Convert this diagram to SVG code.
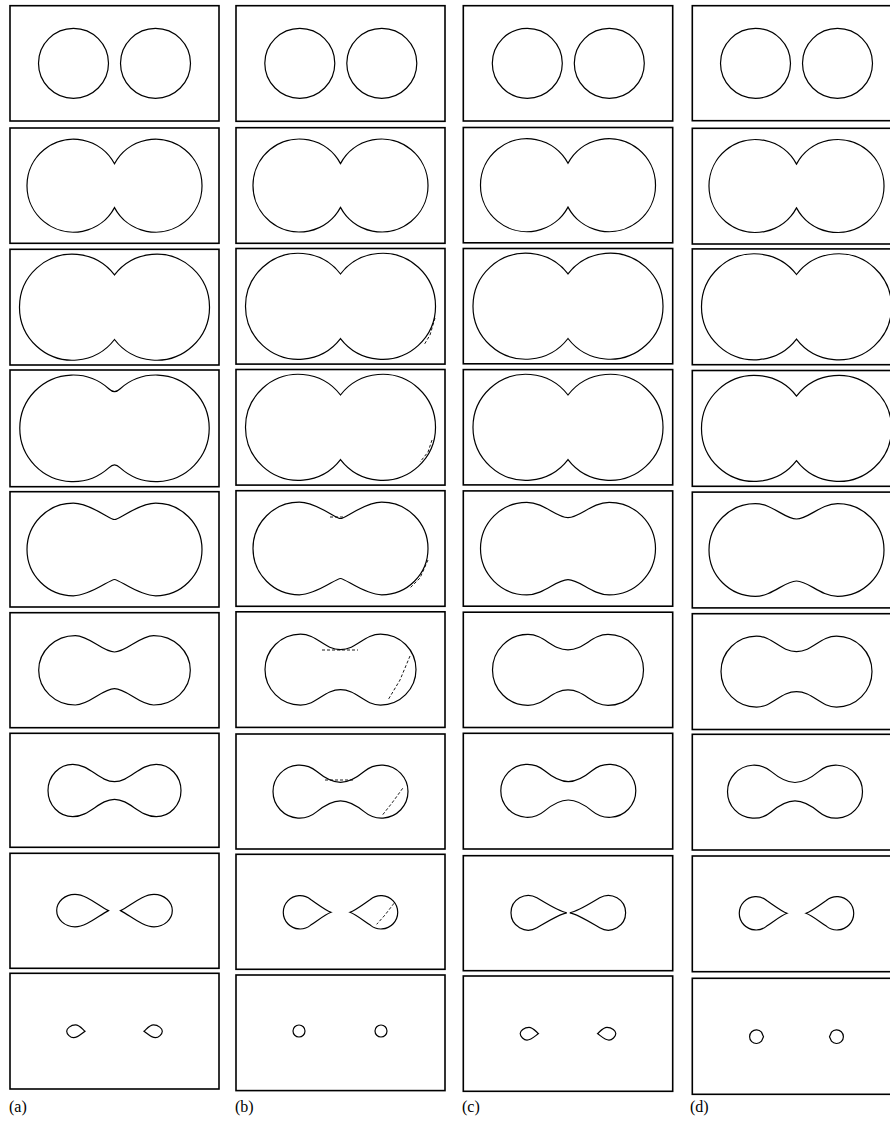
<svg xmlns="http://www.w3.org/2000/svg" xmlns:xlink="http://www.w3.org/1999/xlink" width="890" height="1126" viewBox="0 0 890 1126">
<style>
.panel{fill:#fff;stroke:#000;stroke-width:1.6}
.c{fill:none;stroke:#000;stroke-width:1.2}
.art{fill:none;stroke:#000;stroke-width:0.9;stroke-dasharray:3 2}
.lbl{font-family:"Liberation Serif","Times New Roman",serif;font-size:16px;fill:#000}
</style>
<defs>
<g id="s1" class="c"><circle cx="-41" cy="0" r="35"/><circle cx="41" cy="0" r="35"/></g>
<path id="s2" class="c" d="M0,-21.9 A46.5,46.5 0 1 0 0,21.9 A46.5,46.5 0 1 0 0,-21.9 Z"/>
<path id="s3" class="c" d="M0,-32.3 A53,53 0 1 0 0,32.3 A53,53 0 1 0 0,-32.3 Z"/>
<path id="s4" class="c" d="M-5.74,-39.6 C-1.3,-35.6 1.3,-35.6 5.74,-39.6 A53.3,53.3 0 1 1 5.74,39.6 C1.3,35.6 -1.3,35.6 -5.74,39.6 A53.3,53.3 0 1 1 -5.74,-39.6 Z"/>
<path id="s5" class="c" d="M-87.5,0 C-87.5,-25.6 -66.8,-46.3 -41.2,-46.3 C-24,-46.3 -5,-30 0,-30 C5,-30 24,-46.3 41.2,-46.3 C66.8,-46.3 87.5,-25.6 87.5,0 C87.5,25.6 66.8,46.3 41.2,46.3 C24,46.3 5,30 0,30 C-5,30 -24,46.3 -41.2,46.3 C-66.8,46.3 -87.5,25.6 -87.5,0 Z"/>
<path id="s5u" class="c" d="M-87.5,0 C-87.5,-25.6 -66.8,-46.3 -41.2,-46.3 C-24,-46.3 -12,-31 0,-31 C12,-31 24,-46.3 41.2,-46.3 C66.8,-46.3 87.5,-25.6 87.5,0 C87.5,25.6 66.8,46.3 41.2,46.3 C24,46.3 12,31 0,31 C-12,31 -24,46.3 -41.2,46.3 C-66.8,46.3 -87.5,25.6 -87.5,0 Z"/>
<path id="s6" class="c" d="M-75.8,0 C-75.8,-19.2 -59.4,-34.7 -39.2,-34.7 C-25,-34.7 -12,-18.3 0,-18.3 C12,-18.3 25,-34.7 39.2,-34.7 C59.4,-34.7 75.8,-19.2 75.8,0 C75.8,19.2 59.4,34.7 39.2,34.7 C25,34.7 12,18.3 0,18.3 C-12,18.3 -25,34.7 -39.2,34.7 C-59.4,34.7 -75.8,19.2 -75.8,0 Z"/>
<path id="s6u" class="c" d="M-75.5,0 C-75.5,-19.6 -59.6,-35.5 -40,-35.5 C-24,-35.5 -16,-20 0,-20 C16,-20 24,-35.5 40,-35.5 C59.6,-35.5 75.5,-19.6 75.5,0 C75.5,19.6 59.6,35.5 40,35.5 C24,35.5 16,20 0,20 C-16,20 -24,35.5 -40,35.5 C-59.6,35.5 -75.5,19.6 -75.5,0 Z"/>
<path id="s7a" class="c" d="M-66.5,0 C-66.5,-14.5 -55.4,-26.2 -41.7,-26.2 C-25,-26.2 -15,-8.8 0,-8.8 C15,-8.8 25,-26.2 41.7,-26.2 C55.4,-26.2 66.5,-14.5 66.5,0 C66.5,14.5 55.4,26.2 41.7,26.2 C25,26.2 15,8.8 0,8.8 C-15,8.8 -25,26.2 -41.7,26.2 C-55.4,26.2 -66.5,14.5 -66.5,0 Z"/>
<path id="s7r" class="c" d="M-23.96,-20.3 C-17.8,-15.2 -10,-9.2 0,-9.2 C10,-9.2 17.8,-15.2 23.96,-20.3 A26.5,26.5 0 1 1 23.96,20.3 C17.8,15.2 10,9.2 0,9.2 C-10,9.2 -17.8,15.2 -23.96,20.3 A26.5,26.5 0 1 1 -23.96,-20.3 Z"/>
<g id="s8a" class="c"><path d="M-6,0 C-16,-5 -28,-16.2 -39.5,-16.2 C-50,-16.2 -57.8,-8.5 -57.8,0 C-57.8,8.5 -50,16.2 -39.5,16.2 C-28,16.2 -16,5 -6,0 Z"/><path d="M6,0 C16,-5 28,-16.2 39.5,-16.2 C50,-16.2 57.8,-8.5 57.8,0 C57.8,8.5 50,16.2 39.5,16.2 C28,16.2 16,5 6,0 Z"/></g>
<g id="s8c" class="c"><path d="M-1.5,0 C-10,-1.5 -24.5,-11 -31.4,-15 A17.3,17.3 0 1 0 -31.4,15 C-24.5,11 -10,1.5 -1.5,0 Z"/><path d="M1.5,0 C10,-1.5 24.5,-11 31.4,-15 A17.3,17.3 0 1 1 31.4,15 C24.5,11 10,1.5 1.5,0 Z"/></g>
<g id="s8b" class="c"><path d="M-9.5,0 C-15,-2 -24,-9 -29.8,-12.8 A16.7,16.7 0 1 0 -29.8,12.8 C-24,9 -15,2 -9.5,0 Z"/><path d="M9.5,0 C15,-2 24,-9 29.8,-12.8 A16.7,16.7 0 1 1 29.8,12.8 C24,9 15,2 9.5,0 Z"/></g>
<g id="s9a" class="c"><path d="M-29.5,0 C-32,-2 -35,-6.3 -39,-6.3 C-44,-6.3 -47.8,-2.5 -47.8,0 C-47.8,3 -44,6.5 -41,6.5 C-37,6.5 -33,2.5 -29.5,0 Z"/><path d="M29.5,0 C32,-2 35,-6.3 39,-6.3 C44,-6.3 47.8,-2.5 47.8,0 C47.8,3 44,6.5 41,6.5 C37,6.5 33,2.5 29.5,0 Z"/></g>
<g id="s9d" class="c"><path d="M-33,0 L-35,-4.5 A6.8,6.8 0 1 0 -35,4.5 Z"/><path d="M33,0 L35,-4.5 A6.8,6.8 0 1 1 35,4.5 Z"/></g>
</defs>
<rect width="890" height="1126" fill="#fff"/>

<!-- column a -->
<g id="a1"><rect class="panel" x="10" y="5.7" width="209" height="115.3"/><use href="#s1" transform="translate(114.5,63.3)"/></g>
<g id="a2"><rect class="panel" x="10" y="128" width="209" height="115.3"/><use href="#s2" transform="translate(114.5,185.7)"/></g>
<g id="a3"><rect class="panel" x="10" y="249.3" width="209" height="115.7"/><use href="#s3" transform="translate(114.5,307.2)"/></g>
<g id="a4"><rect class="panel" x="10" y="370" width="209" height="116.7"/><use href="#s4" transform="translate(114.5,428.3)"/></g>
<g id="a5"><rect class="panel" x="10" y="491.7" width="209" height="115.3"/><use href="#s5" transform="translate(114.5,549.5)"/></g>
<g id="a6"><rect class="panel" x="10" y="612.7" width="209" height="115"/><use href="#s6" transform="translate(114.5,670.3)"/></g>
<g id="a7"><rect class="panel" x="10" y="733.3" width="209" height="114"/><use href="#s7a" transform="translate(114.5,790.5)"/></g>
<g id="a8"><rect class="panel" x="10" y="853.3" width="209" height="115"/><use href="#s8a" transform="translate(114.5,910.6)"/></g>
<g id="a9"><rect class="panel" x="10" y="973.3" width="209" height="115.7"/><use href="#s9a" transform="translate(114.5,1031.2)"/></g>

<!-- column b -->
<g id="b1"><rect class="panel" x="236" y="5.7" width="209" height="115.6"/><use href="#s1" transform="translate(340.8,63.3)"/></g>
<g id="b2"><rect class="panel" x="236" y="127.7" width="209" height="115.6"/><use href="#s2" transform="translate(340.5,185.5)"/></g>
<g id="b3"><rect class="panel" x="236" y="248.5" width="209" height="115.6"/><use href="#s3" transform="translate(340.5,306.3)"/><path class="art" d="M435,318 L430,335 L424,345"/></g>
<g id="b4"><rect class="panel" x="236" y="369.5" width="209" height="115.6"/><use href="#s3" transform="translate(340.5,427.3)"/><path class="art" d="M432,440 L428,452 L420,462"/></g>
<g id="b5"><rect class="panel" x="236" y="490.7" width="209" height="115.6"/><use href="#s5" transform="translate(340.5,548.5)"/><path class="art" d="M428,560 L420,578 L410,588"/><path class="art" d="M330,517 L345,517"/></g>
<g id="b6"><rect class="panel" x="236" y="611.8" width="209" height="115.6"/><use href="#s6u" transform="translate(340.5,669.6)"/><path class="art" d="M410,656 L400,680 L388,700"/><path class="art" d="M322,650 L358,650"/></g>
<g id="b7"><rect class="panel" x="236" y="734" width="209" height="115"/><use href="#s7r" transform="translate(340.5,791.6)"/><path class="art" d="M402.7,788.3 L392,803 L381.7,816"/><path class="art" d="M325,780 L355,780"/></g>
<g id="b8"><rect class="panel" x="236" y="854.3" width="209" height="115"/><use href="#s8b" transform="translate(340.5,912.3)"/><path class="art" d="M394,903.3 L385,915 L376.7,924.3"/></g>
<g id="b9"><rect class="panel" x="236" y="975" width="209" height="115.6"/><g class="c"><circle cx="299" cy="1031" r="6"/><circle cx="381" cy="1031" r="6"/></g></g>

<!-- column c -->
<g id="c1"><rect class="panel" x="463.3" y="5.7" width="209.4" height="115.3"/><use href="#s1" transform="translate(568.3,63.3)"/></g>
<g id="c2"><rect class="panel" x="463.3" y="127.5" width="209.4" height="115.3"/><use href="#s2" transform="translate(568,185.2)"/></g>
<g id="c3"><rect class="panel" x="463.3" y="248.5" width="209.4" height="115.3"/><use href="#s3" transform="translate(568,306.2)"/></g>
<g id="c4"><rect class="panel" x="463.3" y="369.6" width="209.4" height="115.3"/><use href="#s3" transform="translate(568,427.3)"/></g>
<g id="c5"><rect class="panel" x="463.3" y="490.9" width="209.4" height="115.3"/><use href="#s5u" transform="translate(568,548.6)"/></g>
<g id="c6"><rect class="panel" x="463.3" y="612.2" width="209.4" height="115.3"/><use href="#s6u" transform="translate(568,669.9)"/></g>
<g id="c7"><rect class="panel" x="463.3" y="733.3" width="209.4" height="115.7"/><use href="#s7r" transform="translate(568.3,790.8)"/></g>
<g id="c8"><rect class="panel" x="463.3" y="855.7" width="209.4" height="115"/><use href="#s8c" transform="translate(568.3,912.8)"/></g>
<g id="c9"><rect class="panel" x="463.3" y="976" width="209.4" height="115.3"/><use href="#s9a" transform="translate(568,1033.6)"/></g>

<!-- column d -->
<g id="d1"><rect class="panel" x="692.3" y="5.7" width="209" height="115"/><use href="#s1" transform="translate(796.5,63.3)"/></g>
<g id="d2"><rect class="panel" x="692.3" y="128.3" width="209" height="115.7"/><use href="#s2" transform="translate(796.5,186)"/></g>
<g id="d3"><rect class="panel" x="692.3" y="248.9" width="209" height="115.8"/><use href="#s3" transform="translate(796.5,306.8)"/></g>
<g id="d4"><rect class="panel" x="692.3" y="370.5" width="209" height="115.8"/><use href="#s3" transform="translate(796.5,428.4)"/></g>
<g id="d5"><rect class="panel" x="692.3" y="492.1" width="209" height="115.8"/><use href="#s5u" transform="translate(796.5,550)"/></g>
<g id="d6"><rect class="panel" x="692.3" y="613.7" width="209" height="115.8"/><use href="#s6u" transform="translate(796.5,671.6)"/></g>
<g id="d7"><rect class="panel" x="692.3" y="734.3" width="209" height="115.7"/><use href="#s7r" transform="translate(795,791.7)"/></g>
<g id="d8"><rect class="panel" x="692.3" y="856" width="209" height="115.7"/><use href="#s8b" transform="translate(796.5,913.3)"/></g>
<g id="d9"><rect class="panel" x="692.3" y="978.3" width="209" height="116"/><use href="#s9d" transform="translate(796.5,1036.7)"/></g>

<g id="labels">
<text class="lbl" x="9" y="1112">(a)</text>
<text class="lbl" x="235" y="1112">(b)</text>
<text class="lbl" x="462" y="1112">(c)</text>
<text class="lbl" x="690" y="1112">(d)</text>
</g>
</svg>
